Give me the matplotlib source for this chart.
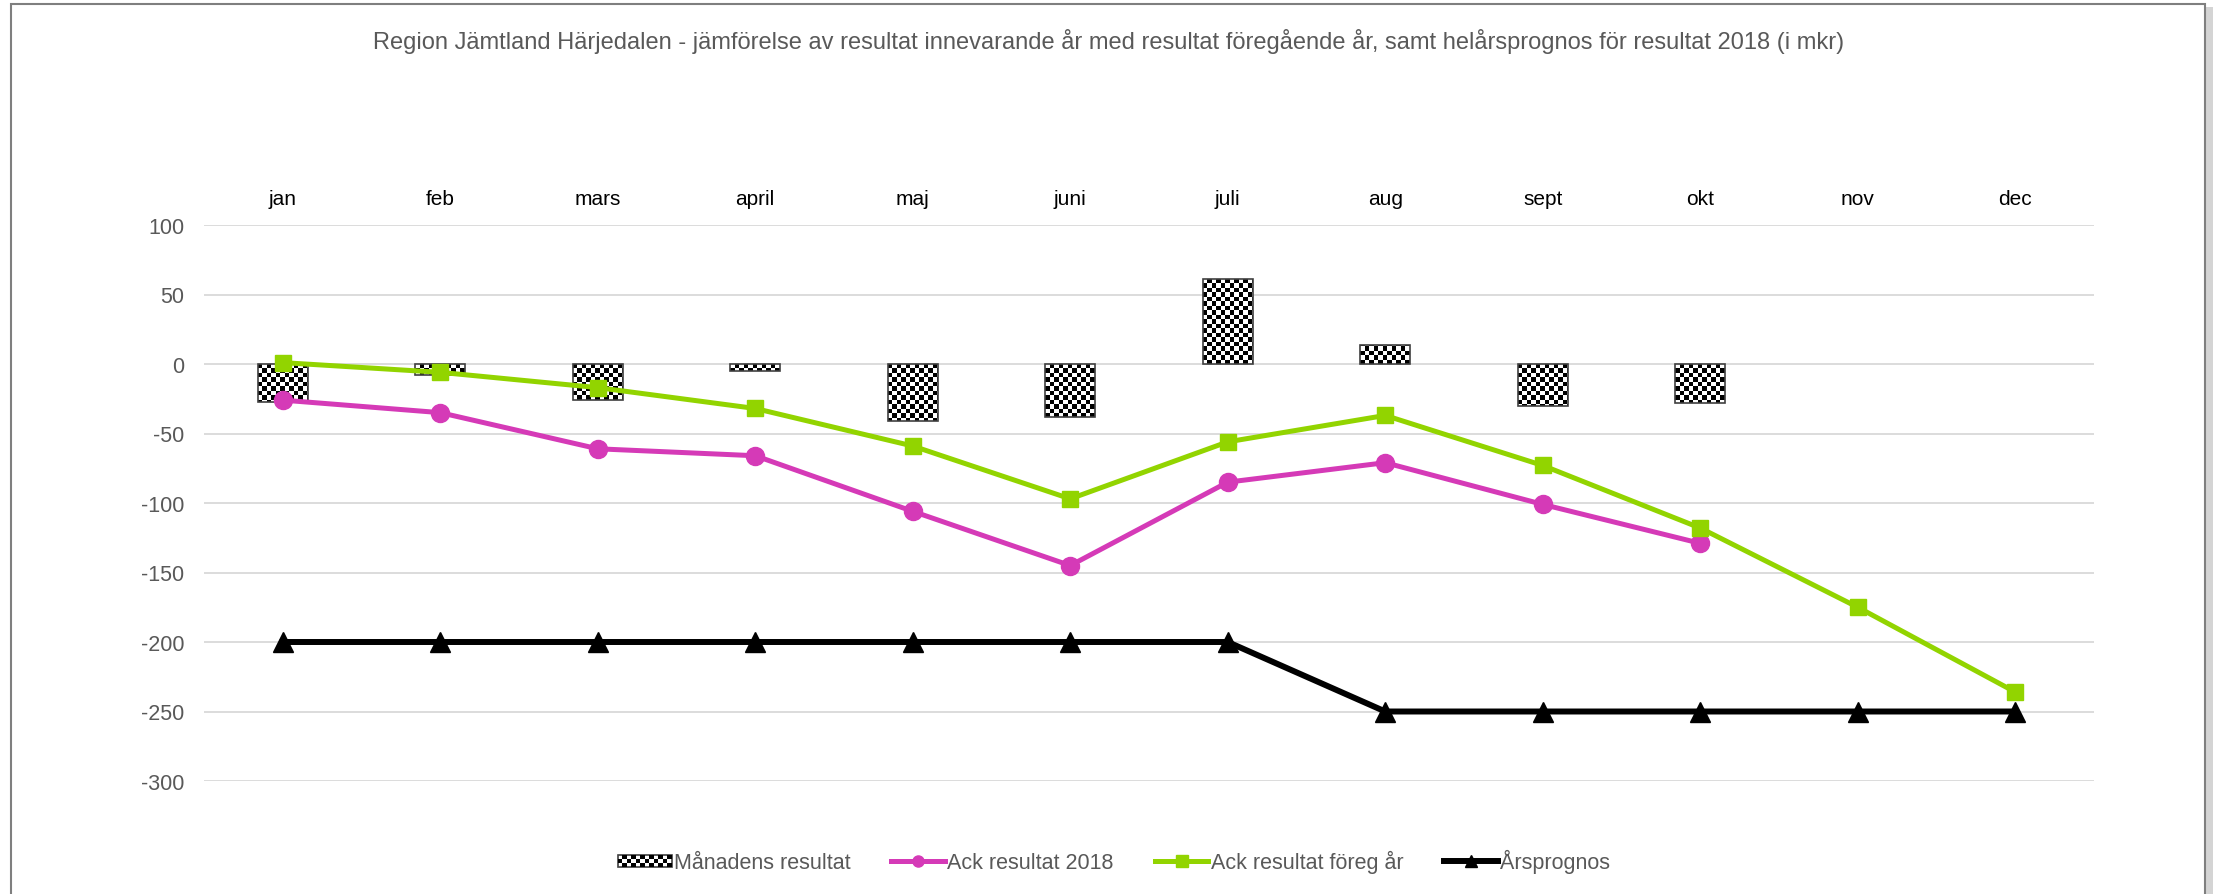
import matplotlib.pyplot as plt
import numpy as np
from matplotlib.patches import Rectangle
from matplotlib.path import Path
from matplotlib.legend_handler import HandlerBase
from matplotlib.lines import Line2D

plt.rcParams['font.family'] = ['Liberation Sans', 'DejaVu Sans']
plt.rcParams['axes.unicode_minus'] = False

# data (mkr)
months = ['jan', 'feb', 'mars', 'april', 'maj', 'juni', 'juli', 'aug', 'sept', 'okt', 'nov', 'dec']
manadens_resultat = [-27, -8, -26, -5, -41, -38, 61, 14, -30, -28, np.nan, np.nan]
ack_2018 = [-26, -35, -61, -66, -106, -145, -85, -71, -101, -129, np.nan, np.nan]
ack_foreg = [1, -6, -17, -32, -59, -97, -56, -37, -73, -118, -175, -236]
arsprognos = [-200, -200, -200, -200, -200, -200, -200, -250, -250, -250, -250, -250]
yticks = [100, 50, 0, -50, -100, -150, -200, -250, -300]

title = ('Region Jämtland Härjedalen - jämförelse av resultat innevarande år med resultat '
         'föregående år, samt helårsprognos för resultat 2018 (i mkr)')

W, H = 2216, 895
fig = plt.figure(figsize=(W / 100, H / 100), dpi=100)
ax = fig.add_axes([204 / W, 1 - 782 / H, (2094 - 204) / W, (782 - 226) / H])

x = np.arange(len(months))
vals = np.array(manadens_resultat, dtype=float)
ok = ~np.isnan(vals)

# bars: outline + checkerboard fill clipped to the bars
bars = ax.bar(x[ok], vals[ok], width=0.32, facecolor='none', edgecolor='#404040',
              linewidth=1.2, zorder=2)
ny, nx = 124, 420
checker = np.add.outer(np.arange(ny), np.arange(nx)) % 2
im = ax.imshow(checker, cmap='gray', extent=(-0.5, 11.5, -300, 100), aspect='auto',
               interpolation='nearest', origin='lower', zorder=1)
paths = [b.get_path().transformed(b.get_patch_transform()) for b in bars]
im.set_clip_path(Path.make_compound_path(*paths), ax.transData)

pink = '#d53ab7'
green = '#92d400'
ax.plot(x, ack_2018, color=pink, lw=3.6, marker='o', ms=13, zorder=4)
ax.plot(x, ack_foreg, color=green, lw=3.6, marker='s', ms=11, zorder=5)
ax.plot(x, arsprognos, color='black', lw=4.3, marker='^', ms=14, zorder=6)

ax.set_xlim(-0.5, 11.5)
ax.set_ylim(-300, 100)
ax.set_yticks(yticks)
ax.set_xticks(x)
ax.set_xticklabels(months)
ax.xaxis.tick_top()
ax.tick_params(axis='x', length=0, pad=12, labelsize=15, labelcolor='black')
ax.tick_params(axis='y', length=0, pad=14, labelsize=15.5, labelcolor='#595959')
ax.grid(axis='y', color='#d9d9d9', lw=1.3, zorder=0)
ax.set_axisbelow(True)
for s in ax.spines.values():
    s.set_visible(False)

fig.text(1109 / W, 1 - 42 / H, title, ha='center', va='center', fontsize=17, color='#595959')


class CheckerHandler(HandlerBase):
    def create_artists(self, legend, orig_handle, xdescent, ydescent, width, height,
                       fontsize, trans):
        h = height * 0.8
        y0 = -ydescent + (height - h) / 2
        arts = [Rectangle((-xdescent, y0), width, h, fc='white', ec='#404040', lw=1.2,
                          transform=trans)]
        nc, nr = 12, 3
        cw, ch = width / nc, h / nr
        for i in range(nc):
            for j in range(nr):
                if (i + j) % 2:
                    arts.append(Rectangle((-xdescent + i * cw, y0 + j * ch), cw, ch,
                                          fc='black', lw=0, transform=trans))
        return arts


bar_proxy = Rectangle((0, 0), 1, 1)
h1 = Line2D([], [], color=pink, lw=3.6, marker='o', ms=8)
h2 = Line2D([], [], color=green, lw=3.6, marker='s', ms=8)
h3 = Line2D([], [], color='black', lw=4.3, marker='^', ms=9)
leg = fig.legend([bar_proxy, h1, h2, h3],
                 ['Månadens resultat', 'Ack resultat 2018', 'Ack resultat föreg år', 'Årsprognos'],
                 handler_map={Rectangle: CheckerHandler()}, loc='center',
                 bbox_to_anchor=(1114 / W, 1 - 862 / H), ncol=4, frameon=False,
                 fontsize=15.5, handlelength=2.5, handletextpad=0.1, columnspacing=1.9,
                 labelcolor='#595959')

# chart frame with a light shadow on the right
fig.patches.append(Rectangle((2206 / W, -0.01), 7 / W, 1 - 8 / H + 0.01,
                             transform=fig.transFigure, fc='#d4d4d4', ec='none'))
fig.patches.append(Rectangle((11 / W, -0.01), (2205 - 11) / W, 1 - 5 / H + 0.01,
                             transform=fig.transFigure, fill=False, ec='#7f7f7f', lw=1.5))

fig.savefig('out.png', dpi=100)
